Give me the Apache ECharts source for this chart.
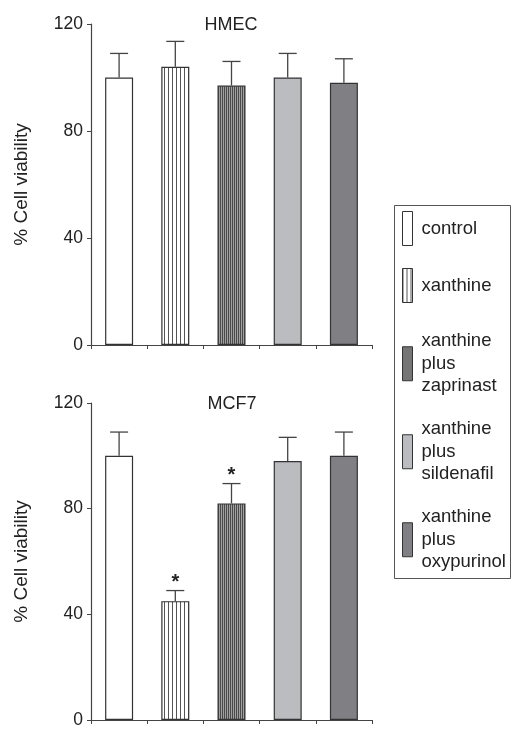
<!DOCTYPE html>
<html>
<head>
<meta charset="utf-8">
<script src="https://cdn.jsdelivr.net/npm/echarts@6/dist/echarts.min.js"></script>
<style>
  html, body { margin: 0; padding: 0; background: #fff; }
  #chart { width: 511px; height: 729px; }
</style>
</head>
<body>
<div id="chart"></div>
<script>
;(function(){
  // treatments, same order in both panels
  var names = ['control', 'xanthine', 'xanthine\nplus\nzaprinast', 'xanthine\nplus\nsildenafil', 'xanthine\nplus\noxypurinol'];
  var yTicks = [0, 40, 80, 120];

  // HMEC panel
  var hmecVals = [100, 104, 97, 100, 98];
  var hmecErr = [9, 9.5, 9, 9, 9];
  var hmecSig = [0, 0, 0, 0, 0];

  // MCF7 panel
  var mcfVals = [100, 45, 82, 98, 100];
  var mcfErr = [9, 4, 7.5, 9, 9];
  var mcfSig = [0, 1, 1, 0, 0];

  var font = '"Liberation Sans", Arial, sans-serif';
  var ink = '#222';

  // striped fills
  function stripes(w, bg, fg){
    var c = document.createElement('canvas');
    c.width = w; c.height = 4;
    var ctx = c.getContext('2d');
    ctx.fillStyle = bg; ctx.fillRect(0, 0, w, 4);
    ctx.fillStyle = fg; ctx.fillRect(0, 0, 1, 4);
    return { image: c, repeat: 'repeat' };
  }
  var fills = [
    '#ffffff',
    stripes(4, '#ffffff', '#555555'),
    stripes(2, '#a0a0a0', '#4a4a4a'),
    '#bbbcc0',
    '#808084'
  ];

  var grids = [
    { left: 91, top: 24, width: 281, height: 321 },
    { left: 91, top: 403, width: 281, height: 321 }
  ];

  function xAxis(i){
    return {
      type: 'category', gridIndex: i, data: names,
      axisLine: { lineStyle: { color: '#444', width: 1.2 } },
      axisTick: { show: true, length: 4, inside: false, interval: 0, lineStyle: { color: '#444' } },
      axisLabel: { show: false },
      splitLine: { show: false }
    };
  }
  function yAxis(i){
    return {
      type: 'value', gridIndex: i, min: yTicks[0], max: yTicks[yTicks.length-1], interval: 40,
      name: '% Cell viability', nameLocation: 'middle', nameGap: 60,
      nameTextStyle: { fontSize: 19, color: ink, fontFamily: font },
      axisLine: { show: true, lineStyle: { color: '#444', width: 1.2 } },
      axisTick: { show: true, length: 4, lineStyle: { color: '#444' } },
      axisLabel: { fontSize: 17.5, color: ink, fontFamily: font, margin: 8 },
      splitLine: { show: false }
    };
  }

  function errItem(params, api){
    var x = api.value(0), v = api.value(1), e = api.value(2), s = api.value(3);
    var base = api.coord([x, v]);
    var top = api.coord([x, v + e]);
    var st = { stroke: '#444', lineWidth: 1.3 };
    var kids = [
      { type: 'line', shape: { x1: base[0], y1: base[1], x2: top[0], y2: top[1] }, style: st },
      { type: 'line', shape: { x1: top[0]-9, y1: top[1], x2: top[0]+9, y2: top[1] }, style: st }
    ];
    if (s) {
      kids.push({ type: 'text', x: top[0], y: top[1] + 2,
        style: { text: '*', fontSize: 20, fontWeight: 'bold', fontFamily: font, fill: ink, align: 'center', verticalAlign: 'bottom' } });
    }
    return { type: 'group', children: kids };
  }

  var series = [];
  function addPanel(gi, vals, err, sig){
    for (var i = 0; i < names.length; i++) {
      series.push({
        name: names[i], type: 'bar', xAxisIndex: gi, yAxisIndex: gi,
        barWidth: 28, barGap: '-100%',
        itemStyle: { color: fills[i], borderColor: '#333', borderWidth: 1.2 },
        data: vals.map(function(v, j){ return j === i ? v : '-'; })
      });
    }
    series.push({
      type: 'custom', xAxisIndex: gi, yAxisIndex: gi, renderItem: errItem,
      encode: { x: 0, y: 1 }, z: 5,
      data: vals.map(function(v, j){ return [j, v, err[j], sig[j]]; })
    });
  }
  addPanel(0, hmecVals, hmecErr, hmecSig);
  addPanel(1, mcfVals, mcfErr, mcfSig);

  // one legend block per entry so the spacing follows the figure
  var legendTops = [211, 268, 330, 418, 506];
  var legends = names.map(function(n, i){
    return {
      data: [n], left: 402, top: legendTops[i], orient: 'vertical', padding: 0,
      icon: 'rect', itemWidth: 10, itemHeight: 34, selectedMode: false,
      itemStyle: { borderColor: '#333', borderWidth: 1 },
      textStyle: { fontSize: 18.5, lineHeight: 22.5, color: ink, fontFamily: font, padding: [0, 0, 0, 4] }
    };
  });

  var myChart = echarts.init(document.getElementById('chart'));
  var option = {
    backgroundColor: '#fff',
    animation: false,
    title: [
      { text: 'HMEC', left: 231, top: 16, textAlign: 'center', padding: 0,
        textStyle: { fontSize: 18, fontWeight: 'normal', color: ink, fontFamily: font } },
      { text: 'MCF7', left: 232, top: 395, textAlign: 'center', padding: 0,
        textStyle: { fontSize: 18, fontWeight: 'normal', color: ink, fontFamily: font } }
    ],
    grid: grids,
    xAxis: [xAxis(0), xAxis(1)],
    yAxis: [yAxis(0), yAxis(1)],
    legend: legends,
    graphic: [
      { type: 'rect', shape: { x: 394.5, y: 205.5, width: 116, height: 373 },
        style: { fill: 'none', stroke: '#555', lineWidth: 1 } }
    ],
    series: series
  };
  myChart.setOption(option);
})();
</script>
</body>
</html>
